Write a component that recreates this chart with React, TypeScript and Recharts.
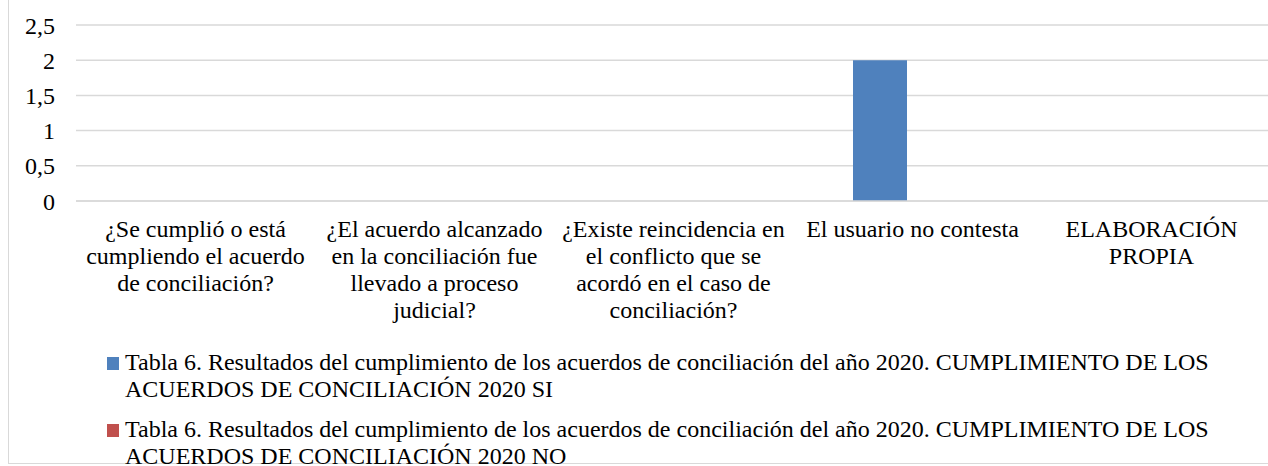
import { BarChart, Bar, XAxis, YAxis, CartesianGrid } from 'recharts';

// category labels, already broken into lines like the original
const categoryLines = [
  ['¿Se cumplió o está', 'cumpliendo el acuerdo', 'de conciliación?'],
  ['¿El acuerdo alcanzado', 'en la conciliación fue', 'llevado a proceso', 'judicial?'],
  ['¿Existe reincidencia en', 'el conflicto que se', 'acordó en el caso de', 'conciliación?'],
  ['El usuario no contesta'],
  ['ELABORACIÓN', 'PROPIA'],
];
const categories = categoryLines.map((l) => l.join(' '));

const valuesSi = [0, 0, 0, 2, 0];
const valuesNo = [0, 0, 0, 0, 0];

const seriesNames = [
  'Tabla 6. Resultados del cumplimiento de los acuerdos de conciliación del año 2020. CUMPLIMIENTO DE LOS ACUERDOS DE CONCILIACIÓN 2020 SI',
  'Tabla 6. Resultados del cumplimiento de los acuerdos de conciliación del año 2020. CUMPLIMIENTO DE LOS ACUERDOS DE CONCILIACIÓN 2020 NO',
];
const seriesColors = ['#4F81BD', '#C0504D'];

const yTicks = [0, 0.5, 1, 1.5, 2, 2.5];

const FONT = '"Liberation Serif", "Times New Roman", serif';

const data = categories.map((name, i) => ({ name, si: valuesSi[i], no: valuesNo[i] }));

const CategoryTick = ({ x, y, payload }: any) => {
  const lines = categoryLines[categories.indexOf(payload.value)] || [payload.value];
  return (
    <text x={x} y={y} textAnchor="middle" fill="#000" fontSize={24} fontFamily={FONT}>
      {lines.map((line, i) => (
        <tspan key={i} x={x} dy={i === 0 ? 36 : 27}>
          {line}
        </tspan>
      ))}
    </text>
  );
};

export default function App() {
  return (
    <div
      style={{
        position: 'fixed',
        left: 0,
        top: 0,
        width: 1268,
        height: 466,
        overflow: 'hidden',
        background: '#fff',
        fontFamily: FONT,
      }}
    >
      <div
        style={{
          position: 'absolute',
          left: 8,
          top: -10,
          width: 1300,
          height: 474,
          boxSizing: 'border-box',
          border: '1px solid #d9d9d9',
        }}
      />
      <div style={{ position: 'absolute', left: 0, top: 0 }}>
        <BarChart
          width={1275}
          height={341}
          data={data}
          margin={{ top: 25, right: 4, bottom: 0, left: 0 }}
          barSize={54}
          barGap={12}
        >
          <CartesianGrid vertical={false} stroke="#d9d9d9" strokeWidth={1.5} />
          <XAxis
            dataKey="name"
            interval={0}
            tickLine={false}
            tickSize={0}
            tickMargin={0}
            axisLine={{ stroke: '#d9d9d9', strokeWidth: 1.5 }}
            height={140}
            tick={<CategoryTick />}
          />
          <YAxis
            width={76}
            domain={[0, 2.5]}
            ticks={yTicks}
            axisLine={false}
            tickLine={false}
            tickSize={0}
            tickMargin={21}
            tick={{ fill: '#000', fontSize: 24, fontFamily: FONT }}
            tickFormatter={(v: number) => String(v).replace('.', ',')}
          />
          <Bar dataKey="si" name={seriesNames[0]} fill={seriesColors[0]} isAnimationActive={false} />
          <Bar dataKey="no" name={seriesNames[1]} fill={seriesColors[1]} isAnimationActive={false} />
        </BarChart>
      </div>
      <div style={{ position: 'absolute', left: 107, top: 349 }}>
        {seriesNames.map((name, i) => (
          <div key={name} style={{ display: 'flex', alignItems: 'flex-start', marginBottom: 13 }}>
            <div
              style={{
                width: 12,
                height: 13,
                marginTop: 8,
                marginRight: 6,
                background: seriesColors[i],
                flex: 'none',
              }}
            />
            <div style={{ width: 1120, fontSize: 24, lineHeight: '27px', color: '#000' }}>{name}</div>
          </div>
        ))}
      </div>
    </div>
  );
}
